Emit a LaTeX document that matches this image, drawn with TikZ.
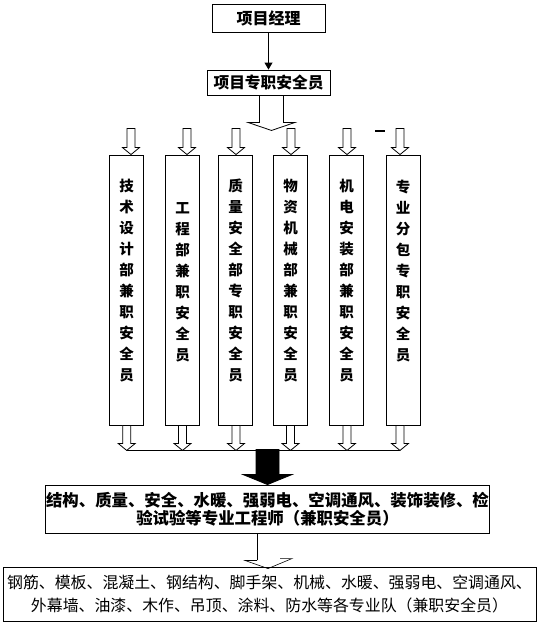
\documentclass[tikz,border=0pt]{standalone}
\usepackage{fontspec}
\newfontfamily\cjk{Noto Sans CJK SC}
\usetikzlibrary{calc,arrows.meta}
\tikzset{
  box/.style={draw, line width=0.9pt, inner sep=1pt, align=center},
  coltext/.style={anchor=north, inner sep=0pt, align=center, font=\cjk\bfseries\fontsize{14.5}{21}\selectfont},
  colbox/.style={draw, line width=0.9pt, minimum width=34pt, minimum height=270pt, inner sep=0pt},
  harrow/.style={draw, line width=0.8pt, fill=white, line join=miter},
  barrow/.style={draw=black, fill=black, line width=0.8pt, line join=miter},
}
\newcommand\hdown[6]{\draw[#6] #1 -- ++(-#5,-#3) -- ++(#5-#4,0) -- ++(0,#3-#2) -- ++(2*#4,0) -- ++(0,#2-#3) -- ++(#5-#4,0) -- cycle;}
\begin{document}
\begin{tikzpicture}[x=1pt,y=-1pt]
\useasboundingbox (0,0) rectangle (540,627);

% top boxes
\node[box, minimum width=113pt, minimum height=28pt, font=\cjk\bfseries\fontsize{16}{18}\selectfont] (b1) at (268.5,18) {项目经理};
\node[box, minimum width=123pt, minimum height=25pt, font=\cjk\bfseries\fontsize{15.7}{18}\selectfont] (b2) at (268.5,82.5) {项目专职安全员};
\draw[line width=0.9pt, -{Triangle[width=8pt,length=7pt]}] (b1) -- (b2);

% big hollow arrow
\hdown{($(b2.south)+(3,35)$)}{35}{8}{12}{23.5}{harrow}

% columns
\node[colbox] (c1) at (126,290) {};
\node[colbox] (c2) at (182,290) {};
\node[colbox] (c3) at (235.5,290) {};
\node[colbox] (c4) at (290.5,290) {};
\node[colbox] (c5) at (346.5,290) {};
\node[colbox] (c6) at (403,290) {};

\node[coltext] (t1) at (126.5,179) {技\\术\\设\\计\\部\\兼\\职\\安\\全\\员};
\node[coltext] (t2) at (182.5,202) {工\\程\\部\\兼\\职\\安\\全\\员};
\node[coltext] (t3) at (235.5,179) {质\\量\\安\\全\\部\\专\\职\\安\\全\\员};
\node[coltext] (t4) at (290.5,179) {物\\资\\机\\械\\部\\兼\\职\\安\\全\\员};
\node[coltext] (t5) at (346.5,179) {机\\电\\安\\装\\部\\兼\\职\\安\\全\\员};
\node[coltext] (t6) at (403,180) {专\\业\\分\\包\\专\\职\\安\\全\\员};

% arrows into columns
\hdown{($(c1.north)+(5,0)$)}{26}{7}{4}{8.5}{harrow}
\hdown{($(c2.north)+(5,0)$)}{26}{7}{4}{8.5}{harrow}
\hdown{($(c3.north)+(0.5,0)$)}{26}{7}{4}{8.5}{harrow}
\hdown{($(c4.north)+(0.5,0)$)}{26}{7}{4}{8.5}{harrow}
\hdown{($(c5.north)+(0.5,0)$)}{26}{7}{4}{8.5}{harrow}
\hdown{($(c6.north)+(-3,0)$)}{26}{7}{4}{8.5}{harrow}
\draw[line width=1.2pt] (375,131) -- (385,131);

% arrows out of columns
\coordinate (h1) at ($(c1.south)+(0.7,25)$);
\coordinate (h6) at ($(c6.south)+(-3,25)$);
\draw[line width=0.9pt] (h1) -- (h6);
\hdown{(h1)}{25}{7}{4}{8.5}{harrow}
\hdown{($(c2.south)+(0.5,25)$)}{25}{7}{4}{8.5}{harrow}
\hdown{($(c3.south)+(0.5,25)$)}{25}{7}{4}{8.5}{harrow}
\hdown{($(c4.south)+(0,25)$)}{25}{7}{4}{8.5}{harrow}
\hdown{($(c5.south)+(0.5,25)$)}{25}{7}{4}{8.5}{harrow}
\hdown{(h6)}{25}{7}{4}{8.5}{harrow}

% engineers box
\node[box, minimum width=435pt, minimum height=48pt, font=\cjk\bfseries\fontsize{16.4}{18}\selectfont] (b3) at (267.5,509) {结构、质量、安全、水暖、强弱电、空调通风、装饰装修、检\\验试验等专业工程师（兼职安全员）};
\hdown{(b3.north)}{35}{10}{11.5}{24.5}{barrow}

% teams box
\node[box, minimum width=533pt, minimum height=54pt, font=\cjk\fontsize{15.9}{23}\selectfont] (b4) at (269.5,594) {钢筋、模板、混凝土、钢结构、脚手架、机械、水暖、强弱电、空调通风、\\外幕墙、油漆、木作、吊顶、涂料、防水等各专业队（兼职安全员）};

\draw[line width=0.8pt] ($(b3.south)+(-10.5,0)$) coordinate (k0) -- ++(0,27) coordinate (k1);
\draw[line width=0.6pt] (k1) -- ++(-12,0) -- ($(b4.north)+(-1.5,2)$) coordinate (k2) -- ++(24,-10) -- ++(-12,0);
\end{tikzpicture}
\end{document}
